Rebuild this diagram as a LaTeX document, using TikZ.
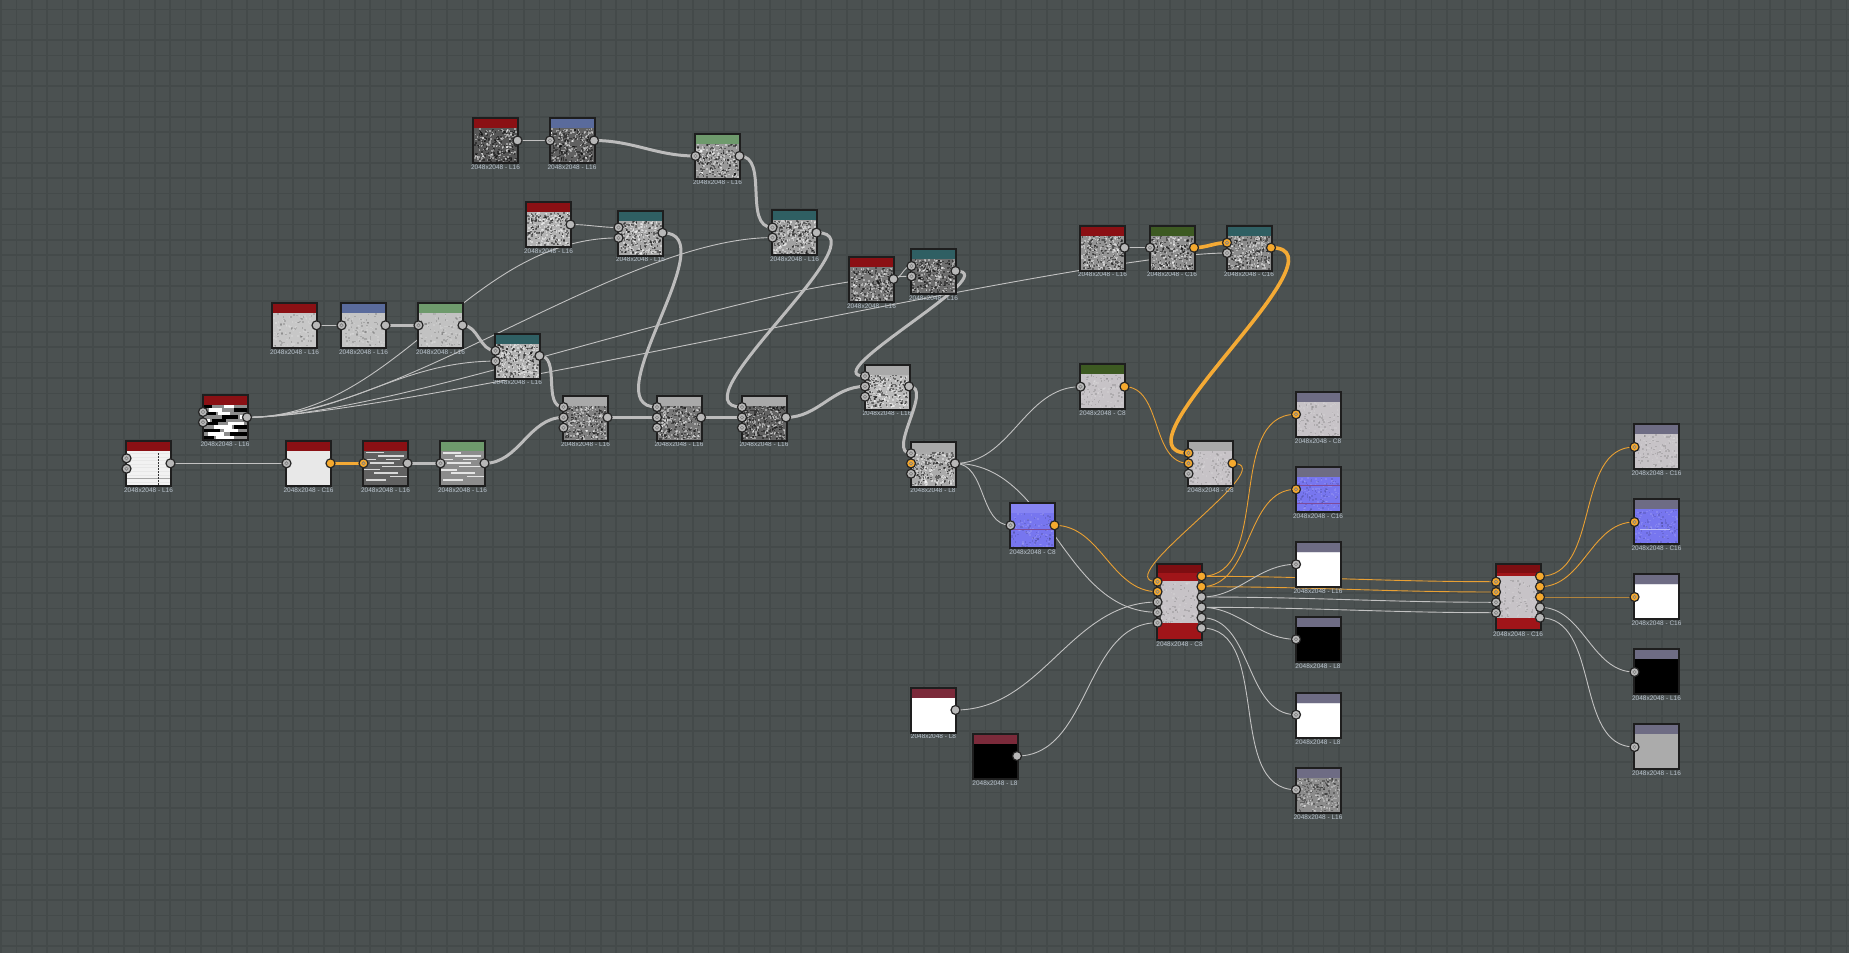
\documentclass[tikz,border=0pt]{standalone}
\usepackage{fontspec}
\setmainfont{Liberation Sans}
\usetikzlibrary{calc}
\pgfdeclarelayer{bg}
\pgfdeclarelayer{edges}
\pgfsetlayers{bg,edges,main}
\definecolor{bgc}{HTML}{4B5151}
\definecolor{gridc}{HTML}{444A4A}
\definecolor{nborder}{HTML}{1E1E1E}
\definecolor{lblc}{HTML}{BCC6D0}
\definecolor{pgray}{HTML}{B8B8B8}
\definecolor{porange}{HTML}{F5A92E}
\definecolor{pborder}{HTML}{262626}
\definecolor{lgray}{HTML}{C2C2C2}
\definecolor{tgray}{HTML}{BCBCBC}
\definecolor{lorange}{HTML}{E9A033}
\definecolor{torange}{HTML}{F4AA35}
\definecolor{hred}{HTML}{8B1014}
\definecolor{hblue}{HTML}{5A6B9C}
\definecolor{hgreen}{HTML}{6E9A6C}
\definecolor{hteal}{HTML}{2F5F63}
\definecolor{hgrayh}{HTML}{A9A9A9}
\definecolor{hdgreen}{HTML}{3D5A22}
\definecolor{hout}{HTML}{6E6C84}
\definecolor{hmaroon}{HTML}{7B2A3A}
\definecolor{hnorm}{HTML}{8684F2}
\definecolor{bnorm}{HTML}{7776EF}
\definecolor{bmat}{HTML}{C7C3C7}
\definecolor{pred}{HTML}{A01519}
\definecolor{pdred}{HTML}{7D0E12}
\definecolor{pstrip}{HTML}{4E4E4E}
\tikzset{
  nbox/.style={inner sep=0pt, outer sep=0pt, minimum width=45pt, anchor=north west, draw=none},
  lbl/.style={font=\fontsize{6.5}{7}\selectfont, text=lblc, inner sep=0pt, anchor=north},
  port/.style={circle, draw=pborder, line width=1.2pt, minimum size=9pt, inner sep=0pt, fill=pgray},
  pring/.style={draw=black!50, line width=0.6pt},
  thinl/.style={draw=lgray, line width=0.9pt},
  thickl/.style={draw=tgray, line width=3pt},
  thino/.style={draw=lorange, line width=0.9pt},
  thicko/.style={draw=torange, line width=3.6pt},
}
\newcommand\tnode[7][45]{%
  \node[nbox, fill=#6, minimum height=#1pt] (#2) at (#3,#4) {};
  \fill[#5] ($(#2.north west)+(1,1)$) rectangle ($(#2.north east)+(-1,10)$);
  \node[lbl] (#2-l) at ($(#2.south)+(0,1.6)$) {#7};
}
\newcommand\tborder[1]{\draw[nborder, line width=2pt] (#1.north west) rectangle (#1.south east);}
\newcommand\pI[4][pgray]{\node[port, fill=#1] (#2-i#3) at ($(#2.north west)+(0.5,#4)$) {};
  \draw[pring] (#2-i#3.center) circle (1.7);}
\newcommand\pO[4][pgray]{\node[port, fill=#1] (#2-o#3) at ($(#2.north east)+(-0.5,#4)$) {};}
\newcommand\lnk[3]{\draw[#1] let \p1=(#2.center), \p2=(#3.center),
  \n1={min(0.38*veclen(\x2-\x1,\y2-\y1),150)} in
  (\p1) .. controls +(\n1,0) and +(-\n1,0) .. (\p2);}
% random speckle texture: node, count, opacity, top offset, height
\newcommand\speckle[5]{%
  \begin{scope}[shift={(#1.north west)}]
  \foreach \k in {1,...,#2} {%
    \fill[white, opacity=#3] ({1+rnd*41.4},{#4+rnd*(#5)}) rectangle ++(1.6,1.6);
    \fill[black, opacity=#3] ({1+rnd*41.4},{#4+rnd*(#5)}) rectangle ++(1.6,1.6);}
  \end{scope}}
\begin{document}
\begin{tikzpicture}[x=1pt,y=-1pt]
\pgfmathsetseed{17}
\useasboundingbox (0,0) rectangle (1849,953);
\begin{pgfonlayer}{bg}
  \fill[bgc] (0,0) rectangle (1849,953);
  \foreach \i in {0,...,120} {\draw[gridc, line width=1.6pt] ({1+15.38*\i},0) -- ++(0,953);}
  \foreach \j in {0,...,62} {\draw[gridc, line width=1.6pt] (0,{9.3+15.36*\j}) -- ++(1849,0);}
\end{pgfonlayer}

% ---- nodes ----
\tnode{A1}{473}{118}{hred}{black!66}{2048x2048 - L16}
\tnode{A2}{549.5}{118}{hblue}{black!62}{2048x2048 - L16}
\tnode{A3}{695}{133.5}{hgreen}{black!40}{2048x2048 - L16}
\tnode{B1}{526}{202}{hred}{black!30}{2048x2048 - L16}
\tnode{B2}{618}{210.5}{hteal}{black!34}{2048x2048 - L16}
\tnode{C1}{772}{210}{hteal}{black!37}{2048x2048 - L16}
\tnode{D1}{849}{257}{hred}{black!52}{2048x2048 - L16}
\tnode{D2}{911}{249}{hteal}{black!57}{2048x2048 - L16}
\tnode{I1}{272}{303}{hred}{black!22}{2048x2048 - L16}
\tnode{I2}{341}{303}{hblue}{black!23}{2048x2048 - L16}
\tnode{I3}{418}{303}{hgreen}{black!24}{2048x2048 - L16}
\tnode{I4}{495}{333.5}{hteal}{black!30}{2048x2048 - L16}
\tnode{J}{202.5}{395}{hred}{black!45}{2048x2048 - L16}
\tnode{K1}{126}{441}{hred}{black!5}{2048x2048 - L16}
\tnode{K2}{286}{441}{hred}{black!9}{2048x2048 - C16}
\tnode{K3}{363}{441}{hred}{black!62}{2048x2048 - L16}
\tnode{K4}{440}{441}{hgreen}{black!45}{2048x2048 - L16}
\tnode{E1}{563}{395.5}{hgrayh}{black!50}{2048x2048 - L16}
\tnode{E2}{656.5}{395.5}{hgrayh}{black!53}{2048x2048 - L16}
\tnode{E3}{741.5}{395.5}{hgrayh}{black!62}{2048x2048 - L16}
\tnode{F1}{864.5}{364.5}{hgrayh}{black!27}{2048x2048 - L16}
\tnode{G}{910.5}{441.5}{hgrayh}{black!33}{2048x2048 - L8}
\tnode{H}{1010}{503}{hnorm}{bnorm}{2048x2048 - C8}
\tnode{L1}{1080}{225.5}{hred}{black!42}{2048x2048 - L16}
\tnode{L2}{1149.5}{225.5}{hdgreen}{black!44}{2048x2048 - C16}
\tnode{L3}{1226.5}{225.5}{hteal}{black!45}{2048x2048 - C16}
\tnode{M}{1080}{364}{hdgreen}{bmat}{2048x2048 - C8}
\tnode{N}{1188}{441}{hgrayh}{bmat}{2048x2048 - C8}
\tnode{O1}{1295.5}{392}{hout}{bmat}{2048x2048 - C8}
\tnode{O2}{1295.5}{467.3}{hout}{bnorm}{2048x2048 - C16}
\tnode{O3}{1295.5}{542.3}{hout}{white}{2048x2048 - L16}
\tnode{O4}{1295.5}{617.3}{hout}{black}{2048x2048 - L8}
\tnode{O5}{1295.5}{692.7}{hout}{white}{2048x2048 - L8}
\tnode{O6}{1295.5}{767.7}{hout}{black!45}{2048x2048 - L16}
\tnode{R1}{1634}{424.3}{hout}{bmat}{2048x2048 - C16}
\tnode{R2}{1634}{499.3}{hout}{bnorm}{2048x2048 - C16}
\tnode{R3}{1634}{574.3}{hout}{white}{2048x2048 - C16}
\tnode{R4}{1634}{649.3}{hout}{black}{2048x2048 - L16}
\tnode{R5}{1634}{724.3}{hout}{black!33}{2048x2048 - L16}
\tnode{S1}{911}{687.5}{hmaroon}{white}{2048x2048 - L8}
\tnode{S2}{972.5}{734}{hmaroon}{black}{2048x2048 - L8}
\tnode[75.7]{P}{1157}{564.3}{pdred}{bmat}{2048x2048 - C8}
\tnode[65.7]{Q}{1495.5}{564.3}{pdred}{bmat}{2048x2048 - C16}

% ---- textures ----
\foreach \n in {A1,A2,A3,B1,B2,C1,D1,D2,I4,E1,E2,E3,F1,G,L1,L2,L3} {\speckle{\n}{150}{0.42}{10}{33}}
\foreach \n in {I1,I2,I3} {\speckle{\n}{60}{0.15}{10}{33}}
\foreach \n in {M,N,O1,R1,H,O2,R2} {\speckle{\n}{70}{0.12}{10}{33}}
\speckle{O6}{120}{0.3}{10}{33}
\foreach \r/\a/\b/\c in {0/0/8/black, 0/20/30/white, 1/5/18/white, 1/30/43/black,
  2/0/12/black, 2/14/26/white, 3/18/34/black, 3/36/43/white, 4/0/6/white, 4/8/22/black,
  5/24/40/white, 5/2/14/black, 6/10/28/white, 6/30/43/black, 7/0/16/black, 7/20/34/white,
  8/4/20/white, 8/26/43/black, 9/0/10/black, 9/12/30/white}
  {\fill[\c] ($(J.north west)+(1+\a,10+3.4*\r)$) rectangle ++(\b-\a,3.4);}
\foreach \r/\a/\b in {0/2/20, 1/14/40, 2/0/12, 2/22/36, 3/6/30, 4/18/43, 5/0/16, 6/10/34, 7/26/43, 8/2/22}
  {\fill[white!85!black] ($(K3.north west)+(1+\a,11+3.4*\r)$) rectangle ++(\b-\a,1.4);
   \fill[white!90!black] ($(K4.north west)+(1+\a,11+3.4*\r)$) rectangle ++(\b-\a,1.6);}
\foreach \r in {0,...,8} {\fill[black!9] ($(K1.north west)+(1,12+3.6*\r)$) rectangle ++(43,1);}
\draw[black!35, line width=0.8pt] ($(K1.north west)+(1,37)$) -- ++(43,0);
\draw[black!80, line width=0.8pt, dash pattern=on 1.5pt off 1.5pt] ($(K1.north west)+(32,12)$) -- ++(0,32);
\draw[black!20!bnorm!80!red, line width=0.6pt] ($(H.north west)+(1,26)$) -- ++(43,0);
\draw[black!20!bnorm!80!red, line width=0.6pt] ($(O2.north west)+(1,18)$) -- ++(43,0);
\draw[black!20!bnorm!80!red, line width=0.6pt] ($(O2.north west)+(1,36)$) -- ++(43,0);
\draw[white!50!bnorm, line width=0.6pt] ($(R2.north west)+(6,30)$) -- ++(30,0);
\foreach \n in {O3,O5,R3} {\fill[white!80!hout] ($(\n.north west)+(1,10)$) rectangle ($(\n.north east)+(-1,11)$);}
% big nodes bands
\speckle{P}{60}{0.12}{17}{41}
\speckle{Q}{50}{0.12}{13}{40}
\fill[pred] ($(P.north west)+(1,9)$) rectangle ($(P.north east)+(-1,16.4)$);
\fill[pred] ($(P.north west)+(1,59)$) rectangle ($(P.south east)+(-1,-1)$);
\fill[pstrip] ($(P.north west)+(1,14)$) rectangle ($(P.north west)+(4,62)$);
\fill[pstrip] ($(P.north east)+(-4,8)$) rectangle ($(P.north east)+(-1,68)$);
\fill[pred] ($(Q.north west)+(1,9)$) rectangle ($(Q.north east)+(-1,12)$);
\fill[pred] ($(Q.north west)+(1,54)$) rectangle ($(Q.south east)+(-1,-1)$);
\fill[pstrip] ($(Q.north west)+(1,14)$) rectangle ($(Q.north west)+(4,52)$);
\fill[pstrip] ($(Q.north east)+(-4,8)$) rectangle ($(Q.north east)+(-1,58)$);

\foreach \n in {A1,A2,A3,B1,B2,C1,D1,D2,I1,I2,I3,I4,J,K1,K2,K3,K4,E1,E2,E3,F1,G,H,L1,L2,L3,M,N,O1,O2,O3,O4,O5,O6,R1,R2,R3,R4,R5,S1,S2,P,Q} {\tborder{\n}}

% ---- ports ----
\pO{A1}{1}{22.5}
\pI{A2}{1}{22.5} \pO{A2}{1}{22.5}
\pI{A3}{1}{22.5} \pO{A3}{1}{22.5}
\pO{B1}{1}{22.5}
\pI{B2}{1}{17} \pI{B2}{2}{27.4} \pO{B2}{1}{22.3}
\pI{C1}{1}{17.5} \pI{C1}{2}{27.6} \pO{C1}{1}{22.6}
\pO{D1}{1}{22}
\pI{D2}{1}{17} \pI{D2}{2}{27.3} \pO{D2}{1}{22}
\pO{I1}{1}{22.3}
\pI{I2}{1}{22.3} \pO{I2}{1}{22.3}
\pI{I3}{1}{22.3} \pO{I3}{1}{22.3}
\pI{I4}{1}{17.3} \pI{I4}{2}{27.6} \pO{I4}{1}{22.3}
\pI{J}{1}{17} \pI{J}{2}{27.3} \pO{J}{1}{22.3}
\pI{K1}{1}{17.3} \pI{K1}{2}{27.7} \pO{K1}{1}{22.3}
\pI{K2}{1}{22.3} \pO[porange]{K2}{1}{22.3}
\pI[porange]{K3}{1}{22.3} \pO{K3}{1}{22.3}
\pI{K4}{1}{22.3} \pO{K4}{1}{22.3}
\foreach \n in {E1,E2,E3,F1} {\pI{\n}{1}{11.6} \pI{\n}{2}{21.9} \pI{\n}{3}{32.2} \pO{\n}{1}{21.9}}
\pI{G}{1}{11.8} \pI[porange]{G}{2}{21.9} \pI{G}{3}{32.2} \pO{G}{1}{21.9}
\pI{H}{1}{22.3} \pO[porange]{H}{1}{22.3}
\pO{L1}{1}{22.2}
\pI{L2}{1}{22.2} \pO[porange]{L2}{1}{22.2}
\pI[porange]{L3}{1}{17.2} \pI{L3}{2}{27.5} \pO[porange]{L3}{1}{22.2}
\pI{M}{1}{22.7} \pO[porange]{M}{1}{22.7}
\pI[porange]{N}{1}{12} \pI[porange]{N}{2}{22.3} \pI{N}{3}{32.7} \pO[porange]{N}{1}{22.3}
\pI[porange]{O1}{1}{22.3} \pI[porange]{O2}{1}{22}
\pI{O3}{1}{22} \pI{O4}{1}{22} \pI{O5}{1}{22} \pI{O6}{1}{22}
\pI[porange]{R1}{1}{22.7} \pI[porange]{R2}{1}{22.7} \pI[porange]{R3}{1}{22.7}
\pI{R4}{1}{22.7} \pI{R5}{1}{22.7}
\pO{S1}{1}{22.5} \pO{S2}{1}{22}
\pI[porange]{P}{1}{17.4} \pI[porange]{P}{2}{27.4} \pI{P}{3}{37.7} \pI{P}{4}{48} \pI{P}{5}{58.4}
\pO[porange]{P}{1}{12} \pO[porange]{P}{2}{22.4} \pO{P}{3}{32.7} \pO{P}{4}{43} \pO{P}{5}{53.4} \pO{P}{6}{63.7}
\pI[porange]{Q}{1}{17.4} \pI[porange]{Q}{2}{27.7} \pI{Q}{3}{38} \pI{Q}{4}{48.4}
\pO[porange]{Q}{1}{12} \pO[porange]{Q}{2}{22.4} \pO[porange]{Q}{3}{32.7} \pO{Q}{4}{43} \pO{Q}{5}{53.4}

% ---- links ----
\begin{pgfonlayer}{edges}
\lnk{thinl}{A1-o1}{A2-i1}
\lnk{thickl}{A2-o1}{A3-i1}
\lnk{thickl}{A3-o1}{C1-i1}
\lnk{thinl}{B1-o1}{B2-i1}
\lnk{thinl}{J-o1}{B2-i2}
\lnk{thinl}{J-o1}{C1-i2}
\lnk{thinl}{J-o1}{I4-i2}
\lnk{thinl}{J-o1}{D2-i2}
\lnk{thinl}{J-o1}{L3-i2}
\lnk{thinl}{I1-o1}{I2-i1}
\lnk{thickl}{I2-o1}{I3-i1}
\lnk{thickl}{I3-o1}{I4-i1}
\lnk{thickl}{I4-o1}{E1-i1}
\lnk{thinl}{K1-o1}{K2-i1}
\lnk{thicko}{K2-o1}{K3-i1}
\lnk{thickl}{K3-o1}{K4-i1}
\lnk{thickl}{K4-o1}{E1-i2}
\lnk{thickl}{E1-o1}{E2-i2}
\lnk{thickl}{B2-o1}{E2-i1}
\lnk{thickl}{E2-o1}{E3-i2}
\lnk{thickl}{C1-o1}{E3-i1}
\lnk{thickl}{E3-o1}{F1-i2}
\lnk{thickl}{D2-o1}{F1-i1}
\lnk{thinl}{D1-o1}{D2-i1}
\lnk{thickl}{F1-o1}{G-i1}
\lnk{thinl}{G-o1}{M-i1}
\lnk{thinl}{G-o1}{H-i1}
\lnk{thinl}{G-o1}{P-i4}
\lnk{thino}{H-o1}{P-i2}
\lnk{thinl}{L1-o1}{L2-i1}
\lnk{thicko}{L2-o1}{L3-i1}
\lnk{thicko}{L3-o1}{N-i1}
\lnk{thino}{M-o1}{N-i2}
\lnk{thino}{N-o1}{P-i1}
\lnk{thinl}{S1-o1}{P-i3}
\lnk{thinl}{S2-o1}{P-i5}
\lnk{thino}{P-o1}{O1-i1}
\lnk{thino}{P-o1}{Q-i1}
\lnk{thino}{P-o2}{O2-i1}
\lnk{thino}{P-o2}{Q-i2}
\lnk{thinl}{P-o3}{O3-i1}
\lnk{thinl}{P-o3}{Q-i3}
\lnk{thinl}{P-o4}{O4-i1}
\lnk{thinl}{P-o4}{Q-i4}
\lnk{thinl}{P-o5}{O5-i1}
\lnk{thinl}{P-o6}{O6-i1}
\lnk{thino}{Q-o1}{R1-i1}
\lnk{thino}{Q-o2}{R2-i1}
\lnk{thino}{Q-o3}{R3-i1}
\lnk{thinl}{Q-o4}{R4-i1}
\lnk{thinl}{Q-o5}{R5-i1}
\end{pgfonlayer}
\end{tikzpicture}
\end{document}
